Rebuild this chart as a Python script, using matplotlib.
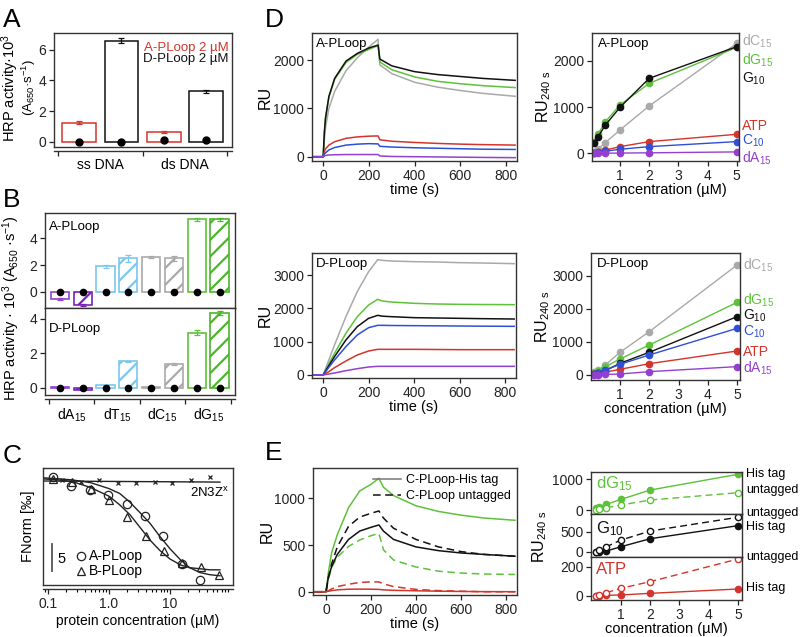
import matplotlib
matplotlib.use("Agg")
import matplotlib.pyplot as plt
import numpy as np
from matplotlib.lines import Line2D
import matplotlib.transforms as mtrans

plt.rcParams['font.family'] = ['Liberation Sans', 'DejaVu Sans']
plt.rcParams['mathtext.fontset'] = 'custom'
plt.rcParams['mathtext.rm'] = 'Liberation Sans'
plt.rcParams['mathtext.it'] = 'Liberation Sans:italic'
plt.rcParams['mathtext.default'] = 'regular'
plt.rcParams['hatch.linewidth'] = 1.6
plt.rcParams['axes.linewidth'] = 1.0
plt.rcParams['axes.edgecolor'] = '#333333'

RED = '#d3342b'
BLACK = '#111111'
GREEN = '#5dc23a'
DGREEN = '#4cb52a'
GRAY = '#a9a9a9'
BLUE = '#2e4fd8'
PURPLE = '#9440cf'
DPURPLE = '#7a22b8'
LBLUE = '#7cc6ee'

# ---- panel A data ----
a_groups = ['ss DNA', 'ds DNA']
a_aploop = [1.25, 0.62]
a_aploop_err = [0.07, 0.05]
a_dploop = [6.6, 3.3]
a_dploop_err = [0.15, 0.1]
a_ctrl_a = [0.0, 0.08]
a_ctrl_d = [0.0, 0.08]

# ---- panel B data ----
b_labels = ['dA$_{15}$', 'dT$_{15}$', 'dC$_{15}$', 'dG$_{15}$']
b_top_open = [-0.55, 1.9, 2.6, 5.42]
b_top_open_err = [0.06, 0.12, 0.06, 0.12]
b_top_hatch = [-1.0, 2.5, 2.5, 5.42]
b_top_hatch_err = [0.08, 0.25, 0.18, 0.12]
b_bot_open = [0.03, 0.15, 0.05, 3.2]
b_bot_open_err = [0.02, 0.03, 0.02, 0.15]
b_bot_hatch = [-0.12, 1.53, 1.36, 4.35]
b_bot_hatch_err = [0.03, 0.05, 0.05, 0.1]

# ---- panel C data ----
c_a_conc = [0.12, 0.24, 0.49, 0.98, 1.95, 3.9, 7.8, 15.6, 31.2]
c_a_fnorm = [0.4, -1.4, -2.0, -2.9, -4.6, -6.8, -10.5, -15.7, -18.6]
c_b_conc = [0.12, 0.25, 0.5, 1.0, 2.0, 4.0, 8.0, 16.0, 32.0, 64.0]
c_b_fnorm = [0.0, -0.5, -1.8, -3.9, -7.0, -10.5, -13.4, -15.5, -16.3, -17.7]
c_x_conc = [0.17, 0.35, 0.7, 1.4, 2.8, 5.6, 11.0, 22.0, 45.0]
c_x_fnorm = [-0.3, -0.5, -0.2, -0.7, -0.7, -0.5, -0.7, -0.2, 0.4]
c_fit_conc = [0.08, 0.15, 0.25, 0.5, 1, 1.5, 2.2, 3.2, 4.7, 6.8, 10, 15, 21, 31, 45, 66]
c_fit_a = [0.2, 0.0, -0.2, -0.7, -1.8, -2.7, -4.3, -6.2, -8.2, -10.6, -12.9, -15.0, -16.4, -17.3, -17.7, -17.9]
c_fit_b = [0.0, -0.2, -0.5, -1.6, -3.2, -4.8, -6.6, -8.9, -11.3, -13.2, -14.8, -15.9, -16.4, -16.6, -16.8, -16.8]
c_fit_x = [-0.4, -0.6]
c_fit_x_conc = [0.08, 66]

# ---- panel D sensorgrams ----
d1_time = [-50, 0, 5, 10, 25, 50, 100, 150, 200, 240, 248, 300, 400, 500, 600, 700, 840]
d1_g10 = [0, 0, 500, 800, 1250, 1620, 1980, 2140, 2250, 2310, 2020, 1880, 1760, 1700, 1660, 1620, 1580]
d1_dg15 = [0, 0, 480, 780, 1230, 1600, 1950, 2120, 2220, 2300, 1960, 1800, 1650, 1560, 1510, 1470, 1430]
d1_dc15 = [0, 0, 350, 600, 1000, 1350, 1780, 2050, 2270, 2430, 1900, 1720, 1540, 1440, 1370, 1310, 1250]
d1_atp = [0, 0, 100, 160, 240, 310, 380, 410, 425, 430, 350, 320, 295, 275, 260, 250, 240]
d1_c10 = [0, 0, 50, 80, 140, 190, 240, 260, 270, 265, 215, 200, 185, 175, 165, 155, 150]
d1_da15 = [0, 0, 15, 25, 35, 40, 45, 45, 45, 45, 15, 5, 0, -5, -10, -15, -20]

d3_time = [-50, 0, 25, 50, 100, 150, 200, 240, 260, 300, 400, 500, 600, 700, 840]
d3_dc15 = [0, 0, 450, 900, 1750, 2500, 3100, 3460, 3440, 3420, 3400, 3390, 3370, 3360, 3340]
d3_dg15 = [0, 0, 330, 650, 1250, 1750, 2100, 2270, 2220, 2190, 2150, 2130, 2120, 2115, 2110]
d3_g10 = [0, 0, 280, 550, 1050, 1450, 1700, 1790, 1765, 1750, 1720, 1710, 1700, 1690, 1680]
d3_c10 = [0, 0, 230, 450, 850, 1200, 1420, 1490, 1490, 1485, 1480, 1475, 1470, 1465, 1460]
d3_atp = [0, 0, 100, 220, 420, 600, 720, 770, 770, 770, 770, 765, 760, 760, 760]
d3_da15 = [0, 0, 30, 60, 130, 190, 240, 260, 260, 260, 260, 260, 260, 260, 260]

# ---- panel D concentration series ----
conc = [0.125, 0.25, 0.5, 1, 2, 5]
d2_dc15 = [36, 94, 231, 505, 1025, 2380]
d2_dg15 = [253, 418, 685, 1046, 1515, 2294]
d2_g10 = [216, 360, 613, 996, 1623, 2309]
d2_atp = [10, 30, 70, 144, 253, 411]
d2_c10 = [5, 20, 45, 87, 144, 253]
d2_da15 = [0, 0, 2, 5, 10, 30]

d4_dc15 = [80, 150, 303, 687, 1313, 3333]
d4_dg15 = [65, 130, 250, 485, 909, 2202]
d4_g10 = [20, 60, 130, 354, 687, 1768]
d4_c10 = [30, 70, 150, 323, 606, 1414]
d4_atp = [20, 40, 85, 172, 343, 727]
d4_da15 = [0, 5, 15, 30, 101, 253]

# ---- panel E ----
e_time = [-50, 0, 10, 25, 50, 100, 150, 200, 235, 255, 300, 400, 500, 600, 700, 840]
e_dg15_his = [0, 0, 200, 420, 610, 900, 1080, 1150, 1215, 1120, 1030, 920, 860, 820, 790, 765]
e_dg15_untag = [0, 0, 130, 260, 370, 485, 555, 600, 625, 450, 340, 265, 220, 200, 190, 185]
e_g10_his = [0, 0, 150, 270, 400, 560, 650, 690, 715, 650, 560, 480, 440, 415, 400, 380]
e_g10_untag = [0, 0, 150, 300, 480, 700, 800, 840, 865, 790, 680, 560, 480, 430, 400, 380]
e_atp_his = [0, 0, 5, 12, 20, 27, 28, 27, 25, 20, 15, 10, 6, 3, 1, 0]
e_atp_untag = [0, 0, 10, 30, 55, 80, 100, 105, 105, 85, 55, 25, 12, 5, 0, 0]

e2_dg15_his = [54, 107, 186, 349, 651, 1163]
e2_dg15_untag = [10, 32, 76, 163, 326, 564]
e2_g10_his = [-10, 0, 17, 125, 325, 650]
e2_g10_untag = [0, 40, 125, 292, 517, 860]
e2_atp_his = [0, 1, 2, 5, 16, 46]
e2_atp_untag = [0, 5, 21, 51, 97, 253]

fig = plt.figure(figsize=(8, 6.37), dpi=100)


def box(l, t, r, b):
    return fig.add_axes([l / 800, 1 - b / 637, (r - l) / 800, (b - t) / 637])


def style(ax, size=10):
    ax.tick_params(direction='out', length=3.5, width=0.9, labelsize=size, pad=2, colors='#222222')
    for s in ax.spines.values():
        s.set_color('#333333')


def offset_bottom(ax):
    ax.spines['bottom'].set_position(('outward', 3))
    ax.plot([0, 1], [0, 0], transform=ax.transAxes, color='#333333', lw=1.0, clip_on=False)


def letter(x, y, s):
    fig.text(x / 800, 1 - y / 637, s, fontsize=19, va='baseline', ha='left')


# ================= A =================
axA = box(54, 33, 232, 147)
style(axA)
xa = np.arange(len(a_groups)) * 2
axA.bar(xa, a_aploop, width=0.8, facecolor='white', edgecolor=RED, lw=1.1,
        yerr=a_aploop_err, error_kw=dict(ecolor=RED, capsize=2.5, lw=0.9, capthick=0.9))
axA.bar(xa + 1, a_dploop, width=0.8, facecolor='white', edgecolor=BLACK, lw=1.1,
        yerr=a_dploop_err, error_kw=dict(ecolor=BLACK, capsize=2.5, lw=0.9, capthick=0.9))
axA.plot(xa, a_ctrl_a, 'o', color='k', ms=5, zorder=5)
axA.plot(xa + 1, a_ctrl_d, 'o', color='k', ms=5, zorder=5)
axA.set_xlim(-0.6, 3.62)
axA.set_ylim(-0.35, 7.1)
axA.set_yticks([0, 2, 4, 6])
axA.set_xticks([-0.5, 1.5, 3.5])
axA.set_xticklabels([])
axA.set_xticks(xa + 0.5, minor=True)
axA.set_xticklabels(a_groups, minor=True, fontsize=11)
axA.tick_params(axis='x', which='minor', length=0, pad=5)
offset_bottom(axA)
axA.text(0.98, 0.87, 'A-PLoop 2 µM', color=RED, ha='right', va='center', fontsize=9.5, transform=axA.transAxes)
axA.text(0.98, 0.77, 'D-PLoop 2 µM', color=BLACK, ha='right', va='center', fontsize=9.5, transform=axA.transAxes)
fig.text(10 / 800, 1 - 88 / 637, 'HRP activity·10$^3$', rotation=90, ha='center', va='center', fontsize=10.5)
fig.text(29 / 800, 1 - 88 / 637, '(A$_{650}$·s$^{-1}$)', rotation=90, ha='center', va='center', fontsize=9.5)
letter(3, 27, 'A')

# ================= B =================
axB1 = box(45, 213, 235, 308)
axB2 = box(45, 308, 235, 395)
open_cols = [PURPLE, LBLUE, GRAY, GREEN]
hatch_cols = [DPURPLE, LBLUE, GRAY, DGREEN]
xb = np.arange(len(b_labels)) * 2
for ax, vo, eo, vh, eh in [(axB1, b_top_open, b_top_open_err, b_top_hatch, b_top_hatch_err),
                           (axB2, b_bot_open, b_bot_open_err, b_bot_hatch, b_bot_hatch_err)]:
    style(ax)
    for i in range(len(b_labels)):
        ax.bar(xb[i], vo[i], width=0.8, facecolor='white', edgecolor=open_cols[i], lw=1.2,
               yerr=eo[i], error_kw=dict(ecolor=open_cols[i], capsize=2, lw=0.9, capthick=0.9))
        ax.bar(xb[i] + 1, vh[i], width=0.8, facecolor='white', edgecolor=hatch_cols[i], lw=1.2,
               hatch='//', yerr=eh[i], error_kw=dict(ecolor=hatch_cols[i], capsize=2, lw=0.9, capthick=0.9))
    ax.plot(np.concatenate([xb, xb + 1]), np.zeros(2 * len(xb)), 'o', color='k', ms=4.5, zorder=5)
    ax.set_xlim(-0.66, 7.68)
    ax.set_yticks([0, 2, 4])
axB1.set_ylim(-1.22, 5.9)
axB2.set_ylim(-0.42, 4.63)
axB1.tick_params(axis='x', bottom=False, labelbottom=False)
axB1.text(0.02, 0.82, 'A-PLoop', transform=axB1.transAxes, fontsize=9.5)
axB2.text(0.02, 0.72, 'D-PLoop', transform=axB2.transAxes, fontsize=9.5)
axB2.set_xticks([-0.5, 1.5, 3.5, 5.5, 7.5])
axB2.set_xticklabels([])
axB2.set_xticks(xb + 0.5, minor=True)
axB2.set_xticklabels(b_labels, minor=True, fontsize=11)
axB2.tick_params(axis='x', which='minor', length=0, pad=5)
for lab, c in zip(axB2.get_xticklabels(minor=True), open_cols):
    lab.set_color(c)
offset_bottom(axB2)
fig.text(11 / 800, 1 - 308 / 637, 'HRP activity · 10$^3$ (A$_{650}$ ·s$^{-1}$)', rotation=90,
         ha='center', va='center', fontsize=10.5)
letter(3, 207, 'B')

# ================= C =================
axC = box(43, 468, 233, 585)
style(axC)
axC.set_xscale('log')
axC.plot(c_fit_conc, c_fit_a, color='#222222', lw=1.0)
axC.plot(c_fit_conc, c_fit_b, color='#222222', lw=1.0)
axC.plot(c_fit_x_conc, c_fit_x, color='#222222', lw=1.0)
axC.plot(c_a_conc, c_a_fnorm, 'o', mfc='none', mec='#222222', ms=6, mew=0.9)
axC.plot(c_b_conc, c_b_fnorm, '^', mfc='none', mec='#222222', ms=6, mew=0.9)
axC.plot(c_x_conc, c_x_fnorm, 'x', color='#222222', ms=3.5, mew=0.9)
axC.set_xlim(0.083, 108)
axC.set_ylim(-19.6, 2.0)
axC.set_xticks([0.1, 1, 10])
axC.set_xticklabels(['0.1', '1.0', '10'])
axC.tick_params(axis='x', which='minor', length=2.5, width=0.8)
axC.set_yticks([])
offset_bottom(axC)
axC.set_xlabel('protein concentration (µM)', fontsize=10, labelpad=2)
axC.set_ylabel('FNorm [‰]', fontsize=10.5, labelpad=6)
axC.text(0.98, 0.79, '2N3Z$^{x}$', ha='right', va='center', fontsize=9.5, transform=axC.transAxes)
tr = mtrans.blended_transform_factory(axC.transAxes, axC.transData)
axC.plot([0.047, 0.047], [-12.1, -17.1], color='#555555', lw=1.3, transform=tr)
axC.text(0.075, -14.8, '5', transform=tr, fontsize=10.5, va='center')
axC.plot([0.2], [0.25], 'o', mfc='none', mec='#222222', ms=6, mew=0.9, transform=axC.transAxes)
axC.plot([0.2], [0.12], '^', mfc='none', mec='#222222', ms=6, mew=0.9, transform=axC.transAxes)
axC.text(0.24, 0.25, 'A-PLoop', transform=axC.transAxes, va='center', fontsize=10)
axC.text(0.24, 0.12, 'B-PLoop', transform=axC.transAxes, va='center', fontsize=10)
letter(3, 463, 'C')

# ================= D =================
d_cols = {'dc15': GRAY, 'dg15': GREEN, 'g10': BLACK, 'atp': RED, 'c10': BLUE, 'da15': PURPLE}

axD1 = box(312, 33, 517, 161)
axD3 = box(312, 253, 516, 378)
for ax, t, series, ylim, yt, name in [
        (axD1, d1_time, [d1_dc15, d1_dg15, d1_g10, d1_atp, d1_c10, d1_da15], (-89, 2560), [0, 1000, 2000], 'A-PLoop'),
        (axD3, d3_time, [d3_dc15, d3_dg15, d3_g10, d3_atp, d3_c10, d3_da15], (-90, 3660), [0, 1000, 2000, 3000], 'D-PLoop')]:
    style(ax)
    for key, y in zip(['dc15', 'dg15', 'g10', 'atp', 'c10', 'da15'], series):
        ax.plot(t, y, color=d_cols[key], lw=1.1)
    ax.set_xlim(-49, 848)
    ax.set_ylim(*ylim)
    ax.set_yticks(yt)
    ax.set_xticks([0, 200, 400, 600, 800])
    ax.set_xlabel('time (s)', fontsize=10.5, labelpad=0)
    ax.set_ylabel('RU', fontsize=11.5, labelpad=0)
    ax.text(0.02, 0.96, name, transform=ax.transAxes, va='top', fontsize=9.5)

axD2 = box(592, 33, 739, 161)
axD4 = box(591, 253, 740, 380)
sub_labels = {'dc15': 'dC$_{15}$', 'dg15': 'dG$_{15}$', 'g10': 'G$_{10}$',
              'atp': 'ATP', 'c10': 'C$_{10}$', 'da15': 'dA$_{15}$'}
d2_label_y = {'dc15': 2430, 'dg15': 2019, 'g10': 1608, 'atp': 600, 'c10': 280, 'da15': -110}
d4_label_y = {'dc15': 3333, 'dg15': 2260, 'g10': 1780, 'c10': 1320, 'atp': 700, 'da15': 210}
for ax, series, ylim, yt, name, laby, xl in [
        (axD2, [d2_dc15, d2_dg15, d2_g10, d2_atp, d2_c10, d2_da15], (-167, 2605), [0, 1000, 2000], 'A-PLoop', d2_label_y, (0.04, 5.08)),
        (axD4, [d4_dc15, d4_dg15, d4_g10, d4_atp, d4_c10, d4_da15], (-152, 3697), [0, 1000, 2000, 3000], 'D-PLoop', d4_label_y, (0.01, 5.1))]:
    style(ax)
    keys = ['dc15', 'dg15', 'g10', 'atp', 'c10', 'da15']
    for key, y in zip(keys, series):
        ax.plot(conc, y, '-o', color=d_cols[key], lw=1.0, ms=4.5)
    ax.set_xlim(*xl)
    ax.set_ylim(*ylim)
    ax.set_yticks(yt)
    ax.set_xticks([1, 2, 3, 4, 5])
    ax.set_xlabel('concentration (µM)', fontsize=10.5, labelpad=0)
    ax.set_ylabel('RU$_{240\\ s}$', fontsize=11.5, labelpad=0)
    ax.text(0.04, 0.96, name, transform=ax.transAxes, va='top', fontsize=9.5)
    trd = mtrans.blended_transform_factory(ax.transAxes, ax.transData)
    for key in keys:
        ax.text(1.02, laby[key], sub_labels[key], color=d_cols[key], transform=trd,
                va='center', ha='left', fontsize=10, clip_on=False)
letter(265, 27, 'D')

# ================= E =================
axE1 = box(313, 468, 517, 595)
style(axE1)
axE1.plot(e_time, e_dg15_his, color=GREEN, lw=1.1)
axE1.plot(e_time, e_dg15_untag, color=GREEN, lw=1.1, ls=(0, (5, 3)))
axE1.plot(e_time, e_g10_his, color=BLACK, lw=1.1)
axE1.plot(e_time, e_g10_untag, color=BLACK, lw=1.1, ls=(0, (5, 3)))
axE1.plot(e_time, e_atp_his, color=RED, lw=1.1)
axE1.plot(e_time, e_atp_untag, color=RED, lw=1.1, ls=(0, (5, 3)))
axE1.set_xlim(-58, 849)
axE1.set_ylim(-35, 1325)
axE1.set_yticks([0, 500, 1000])
axE1.set_xticks([0, 200, 400, 600, 800])
axE1.set_xlabel('time (s)', fontsize=10.5, labelpad=0)
axE1.set_ylabel('RU', fontsize=11.5, labelpad=0)
axE1.legend(handles=[Line2D([], [], color='#777777', lw=1.1),
                     Line2D([], [], color=BLACK, lw=1.1, ls=(0, (5, 3)))],
            labels=['C-PLoop-His tag', 'C-PLoop untagged'], loc='upper right', frameon=False,
            fontsize=9, handlelength=2.2, handletextpad=0.4, borderaxespad=0.1, labelspacing=0.3)

axE2a = box(591, 472, 742, 514)
axE2b = box(591, 514, 742, 557)
axE2c = box(591, 557, 742, 600)
for ax, his, unt, col, ylim, yt, name in [
        (axE2a, e2_dg15_his, e2_dg15_untag, GREEN, (-130, 1238), [0, 1000], 'dG$_{15}$'),
        (axE2b, e2_g10_his, e2_g10_untag, BLACK, (-133, 942), [0, 500], 'G$_{10}$'),
        (axE2c, e2_atp_his, e2_atp_untag, RED, (-30, 267), [0, 200], 'ATP')]:
    style(ax)
    ax.plot(conc, his, '-o', color=col, lw=1.0, ms=4.5)
    ax.plot(conc, unt, 'o', color=col, mfc='white', ms=4.5, ls=(0, (5, 3)), lw=1.0)
    ax.set_xlim(-0.03, 5.14)
    ax.set_ylim(*ylim)
    ax.set_yticks(yt)
    ax.text(0.03, 0.72 if name != 'G$_{10}$' else 0.66, name, color=col, transform=ax.transAxes,
            va='center', fontsize=12)
for ax in (axE2a, axE2b):
    ax.tick_params(axis='x', bottom=False, labelbottom=False)
axE2c.set_xticks([1, 2, 3, 4, 5])
axE2c.set_xlabel('concentration (µM)', fontsize=10.5, labelpad=0)
fig.text(540 / 800, 1 - 537 / 637, 'RU$_{240\\ s}$', rotation=90, ha='center', va='center', fontsize=11.5)
e_side = [(axE2a, 1173, 'His tag'), (axE2a, 651, 'untagged'),
          (axE2b, 967, 'untagged'), (axE2b, 617, 'His tag'),
          (axE2c, 267, 'untagged'), (axE2c, 53, 'His tag')]
for ax, yv, s in e_side:
    tre = mtrans.blended_transform_factory(ax.transAxes, ax.transData)
    ax.text(1.025, yv, s, transform=tre, va='center', ha='left', fontsize=9, clip_on=False)
letter(265, 460, 'E')

fig.savefig('out.png', dpi=100)
